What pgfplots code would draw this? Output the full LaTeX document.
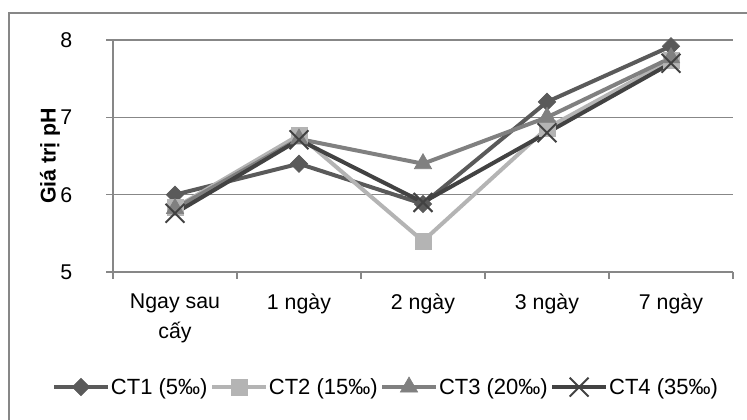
\documentclass[border=0pt]{standalone}
\usepackage{pgfplots}
\pgfplotsset{compat=1.18}
\usetikzlibrary{calc}
\usepackage{fontspec}
\setmainfont{Liberation Sans}
\definecolor{cone}{HTML}{5A5A5A}
\definecolor{ctwo}{HTML}{B4B4B4}
\definecolor{cthree}{HTML}{808080}
\definecolor{cfour}{HTML}{424242}
\definecolor{gridc}{HTML}{878787}
\begin{document}
\begin{tikzpicture}
\begin{axis}[
  name=ax,
  scale only axis, width=465pt, height=174pt,
  xmin=-0.5, xmax=4.5, ymin=5, ymax=8,
  axis x line*=bottom, axis y line*=left,
  axis line style={gridc, line width=0.9pt},
  ytick={5,6,7,8},
  ymajorgrids, major grid style={gridc, line width=0.9pt},
  xtick={0,1,2,3,4},
  xticklabels={{Ngay sau\\cấy},{1 ngày},{2 ngày},{3 ngày},{7 ngày}},
  minor xtick={-0.5,0.5,1.5,2.5,3.5,4.5},
  tick align=outside, major tick length=5pt, minor tick length=5pt,
  major x tick style={draw=none},
  minor x tick style={gridc, line width=0.9pt},
  major y tick style={gridc, line width=0.9pt},
  tick label style={font=\fontsize{16}{22}\selectfont},
  /pgf/number format/assume math mode=true,
  xticklabel style={align=center, yshift=-8pt},
  yticklabel style={xshift=-22pt},
  legend columns=4,
  legend style={at={(0.44,-0.496)}, anchor=center, draw=none,
    font=\fontsize{16.5}{19}\selectfont, nodes={inner xsep=1pt},
    /tikz/every even column/.append style={column sep=1pt}},
  legend image code/.code={\draw[mark repeat=2,mark phase=2,#1] plot coordinates {(0pt,0pt) (20pt,0pt) (40pt,0pt)};},
  every axis plot/.append style={line width=3pt},
]
\coordinate (A) at (rel axis cs:0,0);
\addplot[cone, mark=square*, mark size=4.6pt, mark options={rotate=45, line width=0.5pt}]
  coordinates {(0,6.0)(1,6.4)(2,5.88)(3,7.2)(4,7.92)};
\addlegendentry{CT1 (5‰)}
\addplot[ctwo, mark=square*, mark size=6pt, mark options={line width=0.5pt}]
  coordinates {(0,5.83)(1,6.77)(2,5.4)(3,6.86)(4,7.74)};
\addlegendentry{CT2 (15‰)}
\addplot[cthree, mark=triangle*, mark size=7.5pt, mark options={line width=0.5pt}]
  coordinates {(0,5.82)(1,6.72)(2,6.4)(3,7.0)(4,7.77)};
\addlegendentry{CT3 (20‰)}
\addplot[cfour, mark=x, mark size=10pt, mark options={line width=1.5pt}]
  coordinates {(0,5.76)(1,6.71)(2,5.9)(3,6.8)(4,7.7)};
\addlegendentry{CT4 (35‰)}
\end{axis}
\node[rotate=90, font=\fontsize{16}{19}\selectfont\bfseries] at ($(A)+(-47.25pt,87pt)$) {Giá trị pH};
\draw[gridc, line width=0.9pt] ($(A)+(-78pt,-130pt)$) -- ($(A)+(-78pt,194.25pt)$) -- ($(A)+(500pt,194.25pt)$);
\pgfresetboundingbox
\path[use as bounding box] ($(A)+(-84.75pt,-111pt)$) rectangle ($(A)+(475.5pt,204pt)$);
\end{tikzpicture}
\end{document}
